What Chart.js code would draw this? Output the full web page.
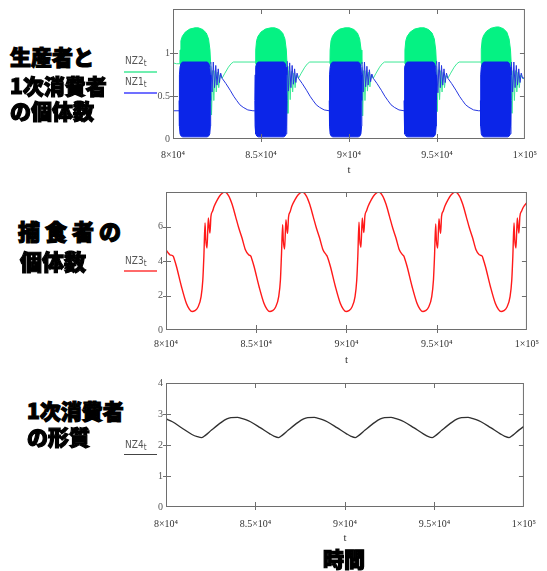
<!DOCTYPE html>
<html>
<head>
<meta charset="utf-8">
<script src="https://cdn.jsdelivr.net/npm/chart.js@4.4.1/dist/chart.umd.min.js"></script>
<style>
body { margin: 0; background: #fff; }
#page { position: relative; width: 547px; height: 571px; overflow: hidden; }
canvas { position: absolute; }
.jp { position: absolute; font-family: "Noto Sans CJK JP", sans-serif; font-weight: 900; font-size: 21px; line-height: 21px; color: #000; -webkit-text-stroke: 1.2px #000; white-space: nowrap; }
.lg { position: absolute; font-family: "Liberation Sans Narrow", "DejaVu Sans Condensed", sans-serif; font-size: 10px; line-height: 10px; color: #555; white-space: nowrap; }
.lg sub { font-size: 8px; vertical-align: -2px; }
.ln { position: absolute; width: 33px; height: 0; }
</style>
</head>
<body>
<div id="page">
  <canvas id="c1" width="417" height="180" style="left:130px;top:0px"></canvas>
  <canvas id="c2" width="417" height="190" style="left:130px;top:180px"></canvas>
  <canvas id="c3" width="417" height="175" style="left:130px;top:370px"></canvas>

  <div class="jp" style="left:10px;top:46px">生産者と</div>
  <div class="jp" style="left:10px;top:75px">1次消費者</div>
  <div class="jp" style="left:10px;top:100px">の個体数</div>
  <div class="lg" style="left:125px;top:56px">NZ2<sub>t</sub></div>
  <div class="ln" style="left:124px;top:71px;border-top:2px solid #70eeb0"></div>
  <div class="lg" style="left:125px;top:77px">NZ1<sub>t</sub></div>
  <div class="ln" style="left:124px;top:92px;border-top:2px solid #7070ff"></div>

  <div class="jp" style="left:18px;top:220px;font-size:22px">捕 食 者 の</div>
  <div class="jp" style="left:20px;top:250px;font-size:22px">個体数</div>
  <div class="lg" style="left:125px;top:256px">NZ3<sub>t</sub></div>
  <div class="ln" style="left:124px;top:270px;border-top:2px solid #ff6a6a"></div>

  <div class="jp" style="left:27px;top:400px">1次消費者</div>
  <div class="jp" style="left:27px;top:426px">の形質</div>
  <div class="lg" style="left:125px;top:440px">NZ4<sub>t</sub></div>
  <div class="ln" style="left:124px;top:454px;border-top:1.5px solid #444"></div>

  <div class="jp" style="left:323px;top:548px">時間</div>
</div>
<script>
// axis ticks
const xTicks = [80000, 85000, 90000, 95000, 100000];
const xLabels = ['8×10⁴', '8.5×10⁴', '9×10⁴', '9.5×10⁴', '1×10⁵'];
const yTicks1 = [0, 0.5, 1];
const yTicks2 = [0, 2, 4, 6];
const yTicks3 = [0, 1, 2, 3, 4];

// panel 1: NZ1 (blue) and NZ2 (green) thin lines, null = gap under a blob
const nz1T = [80000, 80350, 81000,
  82150, 82220, 82290, 82360, 82430, 82500, 82570, 82640, 82710, 82790, 83000, 83250, 83450, 83620, 83800, 83990, 84250, 84540, 84650, 85500,
  86490, 86560, 86630, 86700, 86770, 86840, 86910, 86980, 87050, 87130, 87340, 87590, 87790, 87960, 88140, 88330, 88590, 88880, 89800,
  90740, 90810, 90880, 90950, 91020, 91090, 91160, 91230, 91300, 91380, 91590, 91840, 92040, 92210, 92390, 92580, 92840, 93130, 94000,
  94980, 95050, 95120, 95190, 95260, 95330, 95400, 95470, 95540, 95620, 95830, 96080, 96280, 96450, 96630, 96820, 97080, 97370, 97470, 98300,
  99230, 99300, 99370, 99440, 99510, 99580, 99650, 99720, 99790, 99870, 100000];
const nz1 = [0.33, 0.33, null,
  0.9, 0.55, 0.9, 0.6, 0.86, 0.63, 0.82, 0.66, 0.77, 0.71, 0.65, 0.57, 0.5, 0.45, 0.4, 0.37, 0.34, 0.33, 0.33, null,
  0.91, 0.56, 0.89, 0.6, 0.86, 0.64, 0.82, 0.66, 0.77, 0.71, 0.65, 0.57, 0.5, 0.45, 0.4, 0.37, 0.34, 0.33, null,
  0.9, 0.55, 0.9, 0.61, 0.85, 0.63, 0.81, 0.67, 0.76, 0.71, 0.65, 0.57, 0.5, 0.45, 0.4, 0.37, 0.34, 0.33, null,
  0.91, 0.54, 0.9, 0.6, 0.86, 0.63, 0.82, 0.66, 0.77, 0.71, 0.65, 0.57, 0.5, 0.45, 0.4, 0.37, 0.34, 0.33, 0.33, null,
  0.9, 0.55, 0.9, 0.6, 0.86, 0.63, 0.82, 0.66, 0.77, 0.71, 0.72];

const nz2T = [80000, 80200, 80390, 81000,
  82150, 82190, 82250, 82320, 82390, 82460, 82530, 82600, 82670, 82790, 82950, 83150, 83300, 83430, 84690, 85500,
  86490, 86530, 86590, 86660, 86730, 86800, 86870, 86940, 87010, 87130, 87290, 87490, 87640, 87770, 88920, 89800,
  90740, 90780, 90840, 90910, 90980, 91050, 91120, 91190, 91260, 91380, 91540, 91740, 91890, 92020, 93170, 94000,
  94980, 95020, 95080, 95150, 95220, 95290, 95360, 95430, 95500, 95620, 95780, 95980, 96130, 96260, 97510, 98300,
  99230, 99270, 99330, 99400, 99470, 99540, 99610, 99680, 99750, 99870, 100000];
const nz2 = [0.89, 0.88, 0.88, null,
  0.85, 0.28, 0.8, 0.45, 0.8, 0.55, 0.78, 0.6, 0.75, 0.71, 0.77, 0.84, 0.88, 0.9, 0.9, null,
  0.85, 0.3, 0.8, 0.46, 0.79, 0.55, 0.77, 0.6, 0.75, 0.71, 0.77, 0.84, 0.88, 0.9, 0.9, null,
  0.84, 0.27, 0.8, 0.45, 0.8, 0.56, 0.78, 0.61, 0.75, 0.71, 0.77, 0.84, 0.88, 0.9, 0.9, null,
  0.85, 0.32, 0.81, 0.46, 0.8, 0.55, 0.78, 0.6, 0.74, 0.71, 0.77, 0.84, 0.88, 0.9, 0.9, null,
  0.85, 0.3, 0.8, 0.45, 0.8, 0.55, 0.78, 0.6, 0.75, 0.71, 0.7];

// fast-oscillation bands read as envelopes: blue band (NZ1) and green dome (NZ2)
const blobT = [80350, 80365, 80400, 80460, 80550, 81940, 82030, 82090, 82125, 82140, 83400,
  84650, 84665, 84700, 84760, 84850, 86280, 86370, 86430, 86465, 86480, 87700,
  88880, 88895, 88930, 88990, 89080, 90530, 90620, 90680, 90715, 90730, 92000,
  93130, 93145, 93180, 93240, 93330, 94770, 94860, 94920, 94955, 94970, 96200,
  97470, 97485, 97520, 97580, 97670, 99020, 99110, 99170, 99205, 99220];
const blueTop = [0.45, 0.75, 0.84, 0.885, 0.9, 0.9, 0.885, 0.84, 0.75, 0.45, null,
  0.45, 0.75, 0.84, 0.885, 0.9, 0.9, 0.885, 0.84, 0.75, 0.45, null,
  0.45, 0.75, 0.84, 0.885, 0.9, 0.9, 0.885, 0.84, 0.75, 0.45, null,
  0.45, 0.75, 0.84, 0.885, 0.9, 0.9, 0.885, 0.84, 0.75, 0.45, null,
  0.45, 0.75, 0.84, 0.885, 0.9, 0.9, 0.885, 0.84, 0.75, 0.45];
const blueBottom = [0.45, 0.15, 0.06, 0.035, 0.025, 0.025, 0.035, 0.06, 0.15, 0.45, null,
  0.45, 0.15, 0.06, 0.035, 0.025, 0.025, 0.035, 0.06, 0.15, 0.45, null,
  0.45, 0.15, 0.06, 0.035, 0.025, 0.025, 0.035, 0.06, 0.15, 0.45, null,
  0.45, 0.15, 0.06, 0.035, 0.025, 0.025, 0.035, 0.06, 0.15, 0.45, null,
  0.45, 0.15, 0.06, 0.035, 0.025, 0.025, 0.035, 0.06, 0.15, 0.45];

const domeT = [80390, 80400, 80450, 80530, 80700, 80950, 81250, 81440, 81690, 81890, 82020, 82100, 82140, 83400,
  84690, 84700, 84750, 84830, 85000, 85250, 85550, 85780, 86030, 86230, 86360, 86440, 86480, 87700,
  88920, 88930, 88980, 89060, 89230, 89480, 89780, 90030, 90280, 90480, 90610, 90690, 90730, 92000,
  93170, 93180, 93230, 93310, 93480, 93730, 94030, 94270, 94520, 94720, 94850, 94930, 94970, 96200,
  97510, 97520, 97570, 97650, 97820, 98070, 98370, 98520, 98770, 98970, 99100, 99180, 99220];
const domeTop = [0.88, 1.04, 1.15, 1.2, 1.25, 1.285, 1.3, 1.3, 1.28, 1.24, 1.17, 1.04, 0.88, null,
  0.88, 1.04, 1.15, 1.2, 1.25, 1.285, 1.3, 1.3, 1.28, 1.24, 1.17, 1.04, 0.88, null,
  0.88, 1.04, 1.15, 1.2, 1.25, 1.285, 1.3, 1.3, 1.28, 1.24, 1.17, 1.04, 0.88, null,
  0.88, 1.04, 1.15, 1.2, 1.25, 1.285, 1.3, 1.3, 1.28, 1.24, 1.17, 1.04, 0.88, null,
  0.88, 1.05, 1.16, 1.21, 1.26, 1.295, 1.31, 1.31, 1.29, 1.25, 1.17, 1.04, 0.88];
const domeBottom = [0.85, 0.85, 0.85, 0.85, 0.85, 0.85, 0.85, 0.85, 0.85, 0.85, 0.85, 0.85, 0.85, null,
  0.85, 0.85, 0.85, 0.85, 0.85, 0.85, 0.85, 0.85, 0.85, 0.85, 0.85, 0.85, 0.85, null,
  0.85, 0.85, 0.85, 0.85, 0.85, 0.85, 0.85, 0.85, 0.85, 0.85, 0.85, 0.85, 0.85, null,
  0.85, 0.85, 0.85, 0.85, 0.85, 0.85, 0.85, 0.85, 0.85, 0.85, 0.85, 0.85, 0.85, null,
  0.85, 0.85, 0.85, 0.85, 0.85, 0.85, 0.85, 0.85, 0.85, 0.85, 0.85, 0.85, 0.85];

// panel 2: NZ3 predator
const nz3T = [80000, 80100, 80218,
  80400, 80460, 80580, 80855, 81127, 81300, 81453, 81600, 81760, 81945, 82040, 82100, 82164, 82200, 82273, 82344, 82400, 82436, 82490, 82578, 82670, 82850, 83036, 83254, 83488, 83668, 83853, 84033, 84213, 84398, 84578,
  84700, 84760, 84880, 85155, 85427, 85600, 85753, 85900, 86060, 86245, 86340, 86400, 86464, 86500, 86573, 86644, 86700, 86736, 86790, 86878, 86970, 87150, 87336, 87554, 87788, 87968, 88153, 88333, 88513, 88698, 88878,
  88930, 88990, 89110, 89385, 89657, 89830, 89983, 90130, 90290, 90475, 90570, 90630, 90694, 90730, 90803, 90874, 90930, 90966, 91020, 91108, 91200, 91380, 91566, 91784, 92018, 92198, 92383, 92563, 92743, 92928, 93108,
  93180, 93240, 93360, 93635, 93907, 94080, 94233, 94380, 94540, 94725, 94820, 94880, 94944, 94980, 95053, 95124, 95180, 95216, 95270, 95358, 95450, 95630, 95816, 96034, 96268, 96448, 96633, 96813, 96993, 97178, 97358,
  97520, 97580, 97700, 97975, 98247, 98420, 98573, 98720, 98880, 99065, 99160, 99220, 99284, 99320, 99393, 99464, 99520, 99556, 99610, 99698, 99790, 100000];
const nz3 = [4.65, 4.5, 4.36,
  4.28, 4.1, 3.68, 2.52, 1.55, 1.2, 1.07, 1.12, 1.3, 1.94, 2.9, 4.3, 6.2, 5.3, 4.75, 6.49, 5.9, 5.62, 6.59, 6.88, 7.17, 7.56, 7.85, 8.0, 7.75, 7.27, 6.59, 5.91, 5.33, 4.65, 4.36,
  4.28, 4.1, 3.68, 2.52, 1.55, 1.2, 1.07, 1.12, 1.3, 1.94, 2.9, 4.4, 6.1, 5.2, 4.7, 6.4, 5.8, 5.6, 6.55, 6.85, 7.17, 7.56, 7.85, 8.0, 7.75, 7.27, 6.59, 5.91, 5.33, 4.65, 4.36,
  4.28, 4.1, 3.68, 2.52, 1.55, 1.2, 1.07, 1.12, 1.3, 1.94, 2.9, 4.3, 6.25, 5.3, 4.8, 6.5, 5.9, 5.65, 6.6, 6.9, 7.17, 7.56, 7.85, 8.0, 7.75, 7.27, 6.59, 5.91, 5.33, 4.65, 4.36,
  4.28, 4.1, 3.68, 2.52, 1.55, 1.2, 1.07, 1.12, 1.3, 1.94, 2.9, 4.3, 6.15, 5.25, 4.75, 6.45, 5.85, 5.6, 6.6, 6.88, 7.17, 7.56, 7.85, 8.0, 7.75, 7.27, 6.59, 5.91, 5.33, 4.65, 4.36,
  4.28, 4.1, 3.68, 2.52, 1.55, 1.2, 1.07, 1.12, 1.3, 1.94, 2.9, 4.3, 6.2, 5.3, 4.75, 6.49, 5.9, 5.62, 6.59, 6.88, 7.1, 7.4];

// panel 3: NZ4 trait
const nz4T = [80000, 80360, 80905, 81450, 81750,
  82000, 82200, 82545, 83090, 83400, 83630, 84000, 84170, 84450, 84720, 85260, 85800, 86050,
  86290, 86490, 86835, 87380, 87690, 87920, 88290, 88460, 88740, 89010, 89550, 90090, 90340,
  90580, 90780, 91125, 91670, 91980, 92210, 92580, 92750, 93030, 93300, 93840, 94380, 94630,
  94880, 95080, 95425, 95970, 96280, 96510, 96880, 97050, 97330, 97600, 98140, 98680, 98930,
  99170, 99370, 99715, 100000];
const nz4 = [2.84, 2.75, 2.54, 2.34, 2.27,
  2.24, 2.31, 2.48, 2.73, 2.84, 2.88, 2.89, 2.87, 2.82, 2.75, 2.56, 2.36, 2.28,
  2.24, 2.31, 2.48, 2.73, 2.84, 2.88, 2.89, 2.87, 2.82, 2.75, 2.56, 2.36, 2.28,
  2.24, 2.31, 2.48, 2.73, 2.84, 2.88, 2.89, 2.87, 2.82, 2.75, 2.56, 2.36, 2.28,
  2.24, 2.31, 2.48, 2.73, 2.84, 2.88, 2.89, 2.87, 2.82, 2.75, 2.56, 2.36, 2.28,
  2.24, 2.31, 2.48, 2.6];

const pts = (ts, vs) => ts.map((t, i) => ({x: t, y: vs[i]}));

// box round the plot with short tick marks like mathcad draws them
const frame = {
  id: 'frame',
  afterDatasetsDraw(chart) {
    const {ctx, chartArea: a, scales: {x, y}} = chart;
    ctx.save();
    ctx.strokeStyle = '#6e6e6e';
    ctx.lineWidth = 1;
    ctx.strokeRect(a.left + 0.5, a.top + 0.5, a.width - 1, a.height - 1);
    ctx.beginPath();
    x.ticks.forEach(t => {
      if (t.value === x.min || t.value === x.max) return;
      const px = Math.round(x.getPixelForValue(t.value)) + 0.5;
      ctx.moveTo(px, a.top); ctx.lineTo(px, a.top + 5);
      ctx.moveTo(px, a.bottom + 3); ctx.lineTo(px, a.bottom - 5);
    });
    y.ticks.forEach(t => {
      if (t.value === y.min || t.value === y.max) return;
      const py = Math.round(y.getPixelForValue(t.value)) + 0.5;
      ctx.moveTo(a.left - 3, py); ctx.lineTo(a.left + 5, py);
      ctx.moveTo(a.right - 5, py); ctx.lineTo(a.right, py);
    });
    ctx.stroke();
    ctx.restore();
  }
};

function panel(id, datasets, yMax, yTicks, g) {
  return new Chart(document.getElementById(id), {
    type: 'line',
    data: {datasets},
    options: {
      responsive: false,
      animation: false,
      events: [],
      layout: {padding: {top: g.top, right: g.right, left: 0, bottom: 0}},
      plugins: {legend: {display: false}, tooltip: {enabled: false}},
      elements: {point: {radius: 0}},
      scales: {
        x: {
          type: 'linear', min: 80000, max: 100000,
          afterBuildTicks: s => { s.ticks = xTicks.map(v => ({value: v})); },
          afterFit: s => { s.height = g.xh; },
          grid: {display: false, drawTicks: false},
          border: {display: false},
          ticks: {
            autoSkip: false, maxRotation: 0, padding: g.xpad, color: '#333',
            font: {family: 'Liberation Serif', size: 10},
            callback: v => xLabels[xTicks.indexOf(v)]
          },
          title: {display: true, text: 't', color: '#333', font: {family: 'Liberation Serif', size: 11}, padding: {top: 0, bottom: g.tpad}}
        },
        y: {
          min: 0, max: yMax,
          afterBuildTicks: s => { s.ticks = yTicks.map(v => ({value: v})); },
          afterFit: s => { s.width = g.yw; },
          grid: {display: false, drawTicks: false},
          border: {display: false},
          ticks: {padding: 3, color: '#555', font: {family: 'Liberation Serif', size: 10}, callback: v => String(v)}
        }
      }
    },
    plugins: [frame]
  });
}

const blue = '#0b25e8', green = '#05f283';

panel('c1', [
  {data: pts(blobT, blueTop), borderColor: blue, backgroundColor: blue, borderWidth: 1, fill: '+1'},
  {data: pts(blobT, blueBottom), borderColor: blue, borderWidth: 1, fill: false},
  {data: pts(nz1T, nz1), borderColor: '#2536e0', borderWidth: 1, fill: false},
  {data: pts(domeT, domeTop), borderColor: green, backgroundColor: green, borderWidth: 1, fill: '+1'},
  {data: pts(domeT, domeBottom), borderColor: green, borderWidth: 1, fill: false},
  {data: pts(nz2T, nz2), borderColor: '#3ce896', borderWidth: 1, fill: false}
], 1.52, yTicks1, {top: 8, right: 13, xh: 41, yw: 43, xpad: 10, tpad: 3});

panel('c2', [
  {data: pts(nz3T, nz3), borderColor: '#ff1a1a', borderWidth: 1.4, fill: false, cubicInterpolationMode: 'monotone'}
], 8, yTicks2, {top: 12, right: 14, xh: 40, yw: 36, xpad: 8, tpad: 3});

panel('c3', [
  {data: pts(nz4T, nz4), borderColor: '#303030', borderWidth: 1.3, fill: false, cubicInterpolationMode: 'monotone'}
], 4, yTicks3, {top: 13, right: 14, xh: 38, yw: 36, xpad: 11, tpad: 0});
</script>
</body>
</html>
